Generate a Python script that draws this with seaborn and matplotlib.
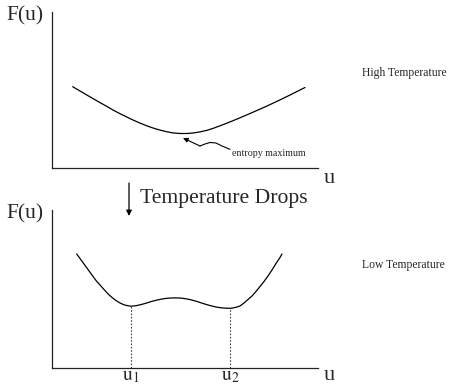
import matplotlib
matplotlib.use('Agg')
import matplotlib.pyplot as plt
from matplotlib.patches import FancyArrowPatch
import seaborn as sns
import pandas as pd

# Free energy curves, arbitrary units
high_u = [20.7, 28, 35, 41, 48, 55, 61, 68, 75, 81, 88, 95, 101, 108, 115, 121,
          128, 135, 141, 148, 155, 161, 168, 175, 181, 188, 195, 201, 208, 215,
          221, 228, 235, 241, 247, 253]
high_F = [81.3, 77.0, 72.9, 69.4, 65.4, 61.5, 58.0, 54.3, 50.9, 48.0, 44.9, 42.1, 40.0,
          37.9, 36.2, 35.1, 34.5, 34.5, 35.0, 36.1, 37.7, 39.6, 42.2, 44.9, 47.3, 50.2,
          53.2, 55.8, 58.9, 62.0, 64.8, 68.1, 71.5, 74.5, 77.5, 80.5]

low_u = [24.7, 28, 32, 36, 40, 44, 48, 52, 56, 60, 64, 68, 72, 76, 79, 84, 89, 94, 99,
         104, 109, 114, 119, 124, 129, 134, 139, 144, 149, 154, 159, 164, 169, 174,
         178, 180, 184, 188, 192, 196, 200, 204, 208, 212, 216, 220, 224, 228, 230]
low_F = [114, 109.5, 104, 98.5, 93, 87.5, 83, 78.5, 74.2, 70.5, 67.5, 65, 63.2, 62.2,
         61.8, 62.3, 63.4, 64.8, 66.4, 67.7, 68.8, 69.6, 70, 70.1, 69.9, 69.2, 68.2,
         66.8, 65.2, 63.6, 62.2, 61, 60.2, 59.8, 59.7, 59.9, 60.7, 62, 65, 68.5, 72,
         76.5, 81.5, 86.5, 92, 98, 104.5, 110.5, 114]

minima_u = [79, 178]
minima_F = [61.8, 59.7]
minima_labels = [r'$\mathrm{u}_1$', r'$\mathrm{u}_2$']

# squiggly pointer to the entropy maximum
wiggle_u = [178, 170, 164, 158, 153, 148]
wiggle_F = [18.7, 22, 25, 25.5, 24, 22]
pointer_tip = (131, 30)

sns.set_style("white")
plt.rcParams['font.family'] = ['Liberation Serif', 'DejaVu Serif']
plt.rcParams['mathtext.fontset'] = 'stix'

fig = plt.figure(figsize=(4.52, 3.84), dpi=100)
W, H = 452, 384

def axes_px(left, top, right, bottom):
    return fig.add_axes([left / W, 1 - bottom / H, (right - left) / W, (bottom - top) / H])

ax_hi = axes_px(52, 12, 318, 168)
ax_lo = axes_px(52, 210, 318, 368)

df_hi = pd.DataFrame({'u': high_u, 'F': high_F})
df_lo = pd.DataFrame({'u': low_u, 'F': low_F})
sns.lineplot(data=df_hi, x='u', y='F', ax=ax_hi, color='black', linewidth=0.9, sort=False)
sns.lineplot(data=df_lo, x='u', y='F', ax=ax_lo, color='black', linewidth=0.9, sort=False)

ax_hi.set_ylim(0, 156)
ax_lo.set_ylim(0, 158)
for ax in (ax_hi, ax_lo):
    ax.set_xlim(0, 266)
    ax.set_xlabel('')
    ax.set_ylabel('')
    ax.set_yticks([])
    for s in ('top', 'right'):
        ax.spines[s].set_visible(False)
    for s in ('left', 'bottom'):
        ax.spines[s].set_linewidth(0.9)
        ax.spines[s].set_color('#222222')
    ax.patch.set_alpha(0)

ax_hi.set_xticks([])

# dotted drop lines at the two minima
for u, f in zip(minima_u, minima_F):
    ax_lo.plot([u, u], [0, f], color='#444444', linestyle=(0, (1.5, 1.5)), linewidth=0.8)
ax_lo.set_xticks(minima_u)
ax_lo.set_xticklabels(minima_labels, fontsize=14)
ax_lo.tick_params(axis='x', length=0, pad=0)

# entropy maximum pointer
ax_hi.plot(wiggle_u, wiggle_F, color='black', linewidth=0.8)
ax_hi.annotate('', xy=pointer_tip, xytext=(wiggle_u[-1], wiggle_F[-1]),
               arrowprops=dict(arrowstyle='-|>', color='black', lw=0.8,
                               mutation_scale=7, shrinkA=0, shrinkB=0))
ax_hi.text(180, 15, 'entropy maximum', fontsize=7.2, va='center', ha='left')

# labels around the axes
fig.text(6 / W, 1 - 16 / H, 'F(u)', fontsize=15.5, va='center', ha='left')
fig.text(6 / W, 1 - 214 / H, 'F(u)', fontsize=15.5, va='center', ha='left')
fig.text(324 / W, 1 - 178 / H, 'u', fontsize=16, va='center', ha='left')
fig.text(324 / W, 1 - 376 / H, 'u', fontsize=16, va='center', ha='left')
fig.text(362 / W, 1 - 73 / H, 'High Temperature', fontsize=8.4, va='center', ha='left')
fig.text(362 / W, 1 - 265 / H, 'Low Temperature', fontsize=8.4, va='center', ha='left')

# temperature drop arrow
fig.add_artist(FancyArrowPatch(
    (129 / W, 1 - 183 / H), (129 / W, 1 - 216 / H), transform=fig.transFigure,
    arrowstyle='-|>', mutation_scale=8, color='black', lw=0.9, shrinkA=0, shrinkB=0))
fig.text(140 / W, 1 - 199 / H, 'Temperature Drops', fontsize=15.6, va='center', ha='left')

fig.savefig('out.png', dpi=100)
